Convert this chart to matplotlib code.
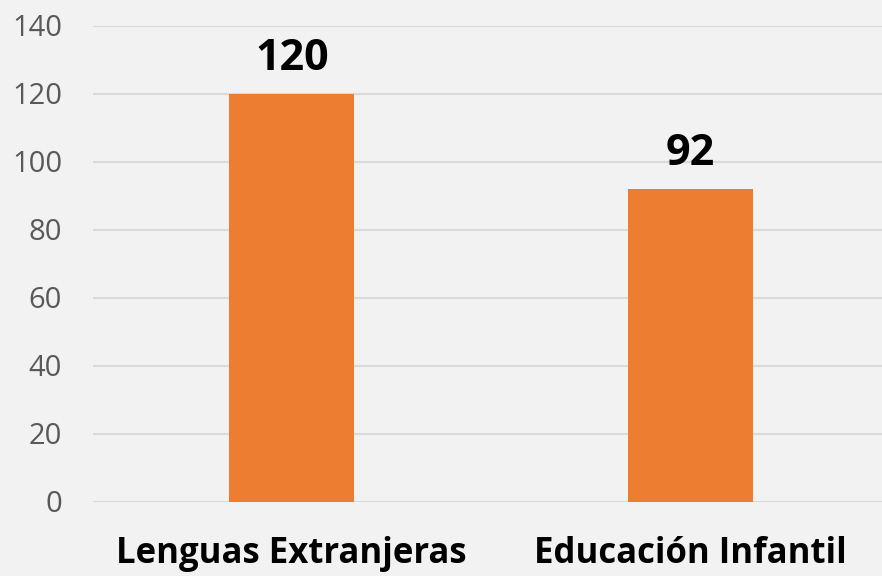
import matplotlib
matplotlib.use("Agg")
import matplotlib.pyplot as plt

categories = ["Lenguas Extranjeras", "Educación Infantil"]
values = [120, 92]
yticks = [0, 20, 40, 60, 80, 100, 120, 140]

BG = "#f2f2f2"
BAR = "#ed7d31"

plt.rcParams["font.family"] = ["Open Sans", "DejaVu Sans"]

fig = plt.figure(figsize=(8.82, 5.76), dpi=100, facecolor=BG)
ax = fig.add_axes([92.5 / 882, 74.5 / 576, 797 / 882, 476 / 576], facecolor=BG)

x = list(range(len(categories)))
ax.bar(x, values, width=0.314, color=BAR, zorder=3)

for xi, v in zip(x, values):
    ax.annotate(f"{v}", (xi, v), xytext=(0, 10), textcoords="offset points",
                ha="center", va="bottom", fontsize=31, fontweight="bold", color="black")

ax.set_xlim(-0.5, 1.5)
ax.set_ylim(0, 140)
ax.set_yticks(yticks)
ax.set_xticks(x)
ax.set_xticklabels(categories, fontsize=25, fontweight="bold", color="black")
ax.tick_params(axis="y", labelsize=21, labelcolor="#595959", length=0, pad=22)
ax.tick_params(axis="x", length=0, pad=25)
ax.yaxis.grid(True, color="#d9d9d9", linewidth=1.5, zorder=0)
ax.set_axisbelow(True)
for s in ax.spines.values():
    s.set_visible(False)

fig.savefig("out.png", dpi=100, facecolor=BG)
